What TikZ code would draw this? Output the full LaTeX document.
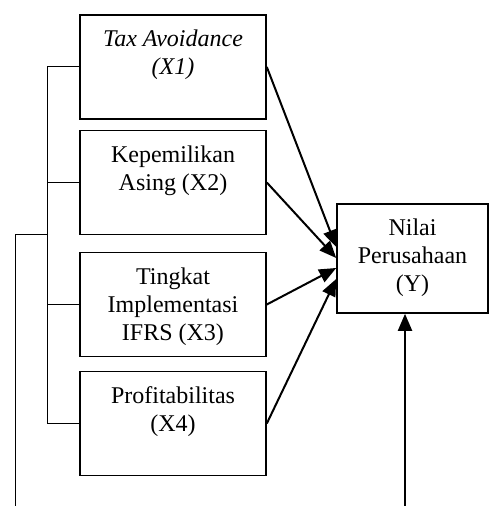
\documentclass[tikz,border=0pt]{standalone}
\usepackage{fontspec}
\setmainfont{Liberation Serif}
\usetikzlibrary{arrows.meta, positioning, calc}
\tikzset{
  varbox/.style={rectangle, draw=black, minimum width=93pt,
    minimum height=52pt, line width=0.8pt, inner sep=0pt},
  ybox/.style={varbox, minimum width=75.5pt, minimum height=54.5pt},
  boxlabel/.style={anchor=north, align=center,
    font=\fontsize{12}{14}\selectfont, yshift=-4.5pt},
  arrow/.style={-{Triangle[width=7pt,length=8.5pt]}, line width=1pt},
  line/.style={line width=0.5pt}
}

\begin{document}
\begin{tikzpicture}[x=0.5pt, y=-0.5pt]
  \useasboundingbox (0,0) rectangle (489,506);
  % independent variables
  \node[varbox, label={[boxlabel]north:{\textit{Tax Avoidance}\\\textit{(X1)}}}] (tax) at (173,67) {};
  \node[varbox, label={[boxlabel]north:{Kepemilikan\\Asing (X2)}}] (asing) at (173,182.5) {};
  \node[varbox, label={[boxlabel]north:{Tingkat\\Implementasi\\IFRS (X3)}}] (ifrs) at (173,304.5) {};
  \node[varbox, label={[boxlabel]north:{Profitabilitas\\(X4)}}] (profit) at (173,423.5) {};
  % dependent variable
  \node[ybox, label={[boxlabel]north:{Nilai\\Perusahaan\\(Y)}}] (nilai) at (412.5,258.5) {};

  \draw[arrow] (tax.east) -- ($(nilai.west)+(0,-11.5)$);
  \draw[arrow] (asing.east) -- ($(nilai.west)+(0,-0.5)$);
  \draw[arrow] (ifrs.east) -- ($(nilai.west)+(0,9.5)$);
  \draw[arrow] (profit.east) -- ($(nilai.west)+(0,20.5)$);

  % simultaneous bracket
  \draw[line] (tax.west) -- ++(-32,0) |- (profit.west);
  \draw[line] (asing.west) -- ++(-32,0);
  \draw[line] (ifrs.west) -- ++(-32,0);
  \coordinate (bend) at (15,235);
  \coordinate (lowend) at (15,506);
  \draw[line] (48,235) -- (bend) -- (lowend);

  \coordinate (ybottom) at (405,506);
  \draw[arrow] (ybottom) -- (ybottom |- nilai.south);
\end{tikzpicture}
\end{document}
